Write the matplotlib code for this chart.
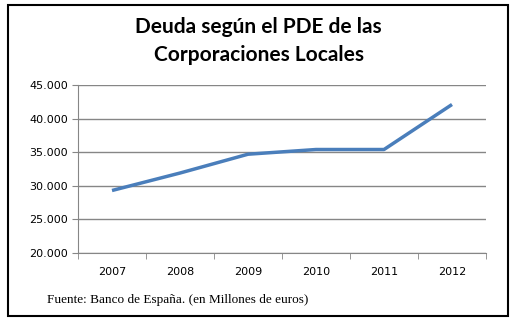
import numpy as np
import matplotlib.pyplot as plt
from matplotlib.patches import Rectangle
from matplotlib.ticker import FuncFormatter

years = ['2007', '2008', '2009', '2010', '2011', '2012']
deuda = [29300, 31900, 34700, 35400, 35400, 42100]

W, H = 517, 326
fig = plt.figure(figsize=(W / 100, H / 100), dpi=100)
fig.patch.set_facecolor('white')

# outer frame
fig.patches.append(Rectangle((8 / W, 1 - 316 / H), 500 / W, 311 / H,
                             transform=fig.transFigure, fill=False,
                             edgecolor='black', linewidth=1.5))

ax = fig.add_axes([78 / W, 1 - 253 / H, 408 / W, 168 / H])
x = np.arange(len(years))
ax.plot(x, deuda, color='#4a7ebb', linewidth=2.5, solid_capstyle='butt')

ax.set_xlim(-0.5, len(years) - 0.5)
ax.set_ylim(20000, 45000)
ax.set_yticks(np.arange(20000, 45001, 5000))
ax.yaxis.set_major_formatter(FuncFormatter(lambda v, p: f'{v/1000:.3f}'))
ax.set_xticks(x)
ax.set_xticklabels(years)
ax.set_xticks(np.arange(-0.5, len(years), 1), minor=True)
ax.tick_params(axis='x', which='major', length=0, pad=10, labelsize=8)
ax.tick_params(axis='x', which='minor', length=4, color='#868686')
ax.tick_params(axis='y', length=4, color='#868686', labelsize=8, pad=3)
ax.grid(axis='y', color='#868686', linewidth=1)
ax.set_axisbelow(True)
for s in ['top', 'right']:
    ax.spines[s].set_visible(False)
for s in ['left', 'bottom']:
    ax.spines[s].set_color('#868686')

fig.text(0.5, 1 - 41 / H, 'Deuda según el PDE de las\nCorporaciones Locales',
         ha='center', va='center', fontsize=15, fontweight='bold',
         family='Lato', linespacing=1.45)
fig.text(47 / W, 1 - 300 / H, 'Fuente: Banco de España. (en Millones de euros)',
         ha='left', va='center', fontsize=9.5, family='Liberation Serif')

fig.savefig('out.png', dpi=100)
